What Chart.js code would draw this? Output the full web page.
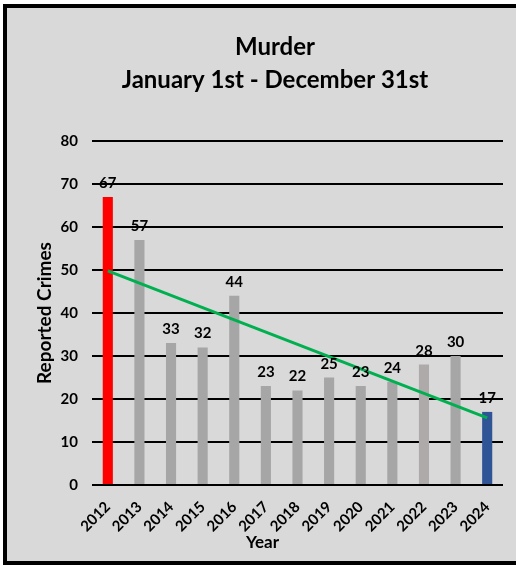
<!DOCTYPE html>
<html>
<head>
<meta charset="utf-8">
<script src="https://cdn.jsdelivr.net/npm/chart.js@4/dist/chart.umd.min.js"></script>
<style>
  html, body { margin: 0; padding: 0; background: #ffffff; width: 516px; height: 566px; overflow: hidden; }
  #frame { position: absolute; left: 3px; top: 4px; width: 540px; height: 553px; border: 4px solid #000; background: #d9d9d9; }
  #wrap { position: absolute; left: 0; top: 0; width: 536px; height: 553px; }
</style>
</head>
<body>
<div id="frame"><div id="wrap"><canvas id="c" width="536" height="553"></canvas></div></div>
<script>
const years = ["2012","2013","2014","2015","2016","2017","2018","2019","2020","2021","2022","2023","2024"];
const crimes = [67, 57, 33, 32, 44, 23, 22, 25, 23, 24, 28, 30, 17];
const barColors = ["#ff0000","#a6a6a6","#a6a6a6","#a6a6a6","#a6a6a6","#a6a6a6","#a6a6a6","#a6a6a6","#a6a6a6","#a6a6a6","#aeaaaa","#a6a6a6","#2f5597"];
const trend = [49.8, null, null, null, null, null, null, null, null, null, null, null, 15.6];
const yTicks = [0, 10, 20, 30, 40, 50, 60, 70, 80];
const titleLines = ["Murder", "January 1st - December 31st"];
const xTitle = "Year";

const FONT = "Lato, 'Open Sans', sans-serif";

const textPlugin = {
  id: 'texts',
  afterDatasetsDraw(chart) {
    const ctx = chart.ctx;
    const meta = chart.getDatasetMeta(1);
    ctx.save();
    ctx.fillStyle = "#000";
    ctx.textAlign = "center";
    // data labels above the bars
    ctx.font = "bold 15px " + FONT;
    ctx.textBaseline = "alphabetic";
    meta.data.forEach((el, i) => {
      ctx.fillText(String(crimes[i]), el.x, el.y - 9);
    });
    // chart title (the original frame is wider than the visible crop)
    ctx.textBaseline = "middle";
    ctx.font = "bold 24px " + FONT;
    titleLines.forEach((t, i) => ctx.fillText(t, chart.width / 2, 39 + i * 33));
    // x axis title
    const ca = chart.chartArea;
    ctx.font = "bold 17px " + FONT;
    ctx.fillText(xTitle, (ca.left + ca.right) / 2 - 35, chart.height - 18);
    ctx.restore();
  }
};

new Chart(document.getElementById('c'), {
  data: {
    labels: years,
    datasets: [
      {
        type: 'line',
        data: trend,
        borderColor: '#00b050',
        borderWidth: 3,
        pointRadius: 0,
        spanGaps: true,
        order: 0
      },
      {
        type: 'bar',
        data: crimes,
        backgroundColor: barColors,
        barPercentage: 0.32,
        categoryPercentage: 1.0,
        order: 1
      }
    ]
  },
  options: {
    responsive: false,
    animation: false,
    layout: { padding: { left: 0, right: 40, top: 133, bottom: 0 } },
    plugins: {
      legend: { display: false },
      tooltip: { enabled: false },
      title: { display: false }
    },
    scales: {
      x: {
        grid: { display: false, drawTicks: false },
        border: { display: false },
        ticks: {
          color: '#000',
          font: { family: FONT, size: 15, weight: 'bold' },
          maxRotation: 45, minRotation: 45,
          padding: 13
        },
        afterFit(scale) { scale.height = 76; }
      },
      y: {
        min: 0, max: 80,
        afterBuildTicks(scale) { scale.ticks = yTicks.map(v => ({ value: v })); },
        grid: { color: '#000', lineWidth: 2, drawTicks: false },
        border: { display: false },
        ticks: {
          color: '#000',
          font: { family: FONT, size: 15, weight: 'bold' },
          padding: 14
        },
        title: {
          display: true, text: 'Reported Crimes', color: '#000',
          font: { family: FONT, size: 19, weight: 'bold' },
          padding: { top: 26, bottom: 0 }
        },
        afterFit(scale) { scale.width = 85; }
      }
    }
  },
  plugins: [textPlugin]
});
</script>
</body>
</html>
